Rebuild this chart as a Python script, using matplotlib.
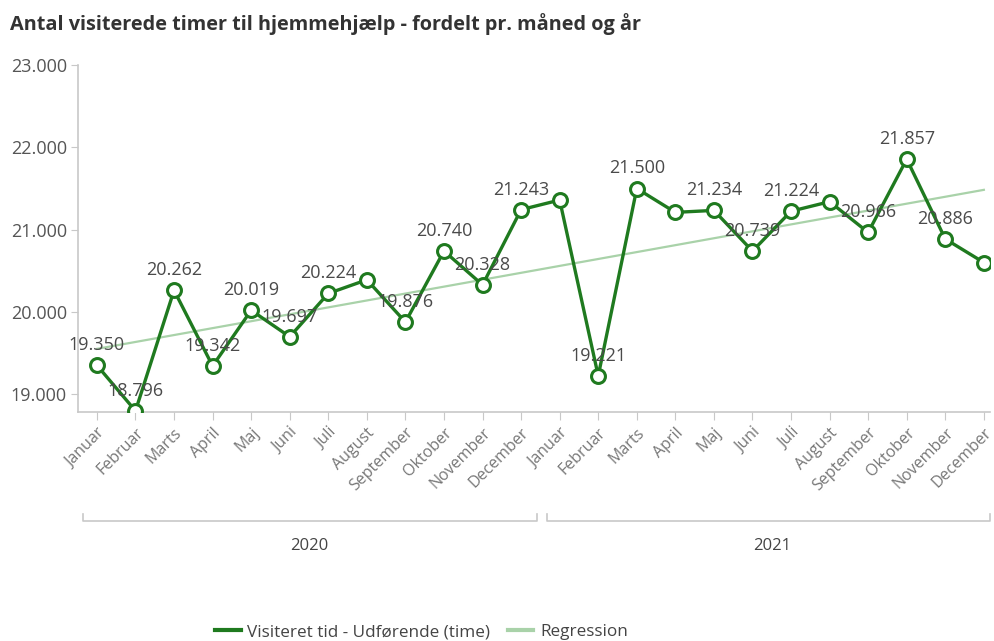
import numpy as np
import matplotlib.pyplot as plt
from matplotlib.ticker import FuncFormatter
from matplotlib.lines import Line2D

plt.rcParams['font.family'] = ['Open Sans', 'DejaVu Sans']

months = ['Januar', 'Februar', 'Marts', 'April', 'Maj', 'Juni', 'Juli',
          'August', 'September', 'Oktober', 'November', 'December']
years = ['2020', '2021']
vals_2020 = [19350, 18796, 20262, 19342, 20019, 19697, 20224, 20390, 19876, 20740, 20328, 21243]
vals_2021 = [21360, 19221, 21500, 21210, 21234, 20739, 21224, 21340, 20966, 21857, 20886, 20600]
# points whose value label is shown (others were hidden in the original)
shown_2020 = [1, 1, 1, 1, 1, 1, 1, 0, 1, 1, 1, 1]
shown_2021 = [0, 1, 1, 0, 1, 1, 1, 0, 1, 1, 1, 0]

values = np.array(vals_2020 + vals_2021)
shown = shown_2020 + shown_2021
labels = months * len(years)
x = np.arange(len(values))

# linear regression line
k, m = np.polyfit(x, values, 1)
reg = k * x + m

dark = '#1f7a1f'
light = '#a9d2a9'
grey = '#555555'

def dk(v, pos=None):
    return f'{v:,.0f}'.replace(',', '.')

fig = plt.figure(figsize=(9.94, 6.41), dpi=100)
ax = fig.add_axes([0.0785, 0.357, 0.9175, 0.5413])

ax.plot(x, reg, color=light, lw=1.6, zorder=2)
ax.plot(x, values, color=dark, lw=2.4, marker='o', ms=10, mfc='white',
        mec=dark, mew=2.2, zorder=3)

for xi, v, s in zip(x, values, shown):
    if s:
        ax.annotate(dk(v), (xi, v), xytext=(0, 8), textcoords='offset points',
                    ha='center', va='bottom', fontsize=13, color='#4a4a4a', zorder=4)

ax.set_ylim(18780, 23000)
ax.set_xlim(-0.49, 23.16)
ax.set_yticks([19000, 20000, 21000, 22000, 23000])
ax.yaxis.set_major_formatter(FuncFormatter(dk))
ax.set_xticks(x)
ax.set_xticklabels(labels, rotation=45, ha='right', rotation_mode='anchor',
                   fontsize=11.5, color='#777777')

for s in ['top', 'right']:
    ax.spines[s].set_visible(False)
for s in ['left', 'bottom']:
    ax.spines[s].set_color('#c8c8c8')
    ax.spines[s].set_linewidth(1.2)
ax.tick_params(axis='y', length=5, color='#c8c8c8', labelsize=13, labelcolor=grey, pad=3)
ax.tick_params(axis='x', length=6, color='#c8c8c8', pad=3)

# year brackets under the month labels
tr = ax.get_xaxis_transform()
by, ly = -0.314, -0.386
for i, yr in enumerate(years):
    x0 = i * 12 - 0.37 if i == 0 else i * 12 - 0.33
    x1 = i * 12 + 11.41 if i == 0 else 23.16
    ax.plot([x0, x0, x1, x1], [by + 0.02, by, by, by + 0.02], color='#c8c8c8',
            lw=1.2, transform=tr, clip_on=False)
    ax.text(i * 12 + 5.5, ly, yr, transform=tr, ha='center', va='center',
            fontsize=12, color='#444444')

fig.text(0.01, 0.963, 'Antal visiterede timer til hjemmehjælp - fordelt pr. måned og år',
         fontsize=14.3, fontweight='bold', color='#333333', ha='left', va='center')

handles = [Line2D([], [], color=dark, lw=3), Line2D([], [], color=light, lw=3)]
fig.legend(handles, ['Visiteret tid - Udførende (time)', 'Regression'],
           loc='center', bbox_to_anchor=(0.424, 0.014), ncol=2, frameon=False,
           fontsize=12.3, handlelength=1.5, handletextpad=0.4, columnspacing=1.0,
           labelcolor='#444444')

fig.savefig('out.png', dpi=100)
